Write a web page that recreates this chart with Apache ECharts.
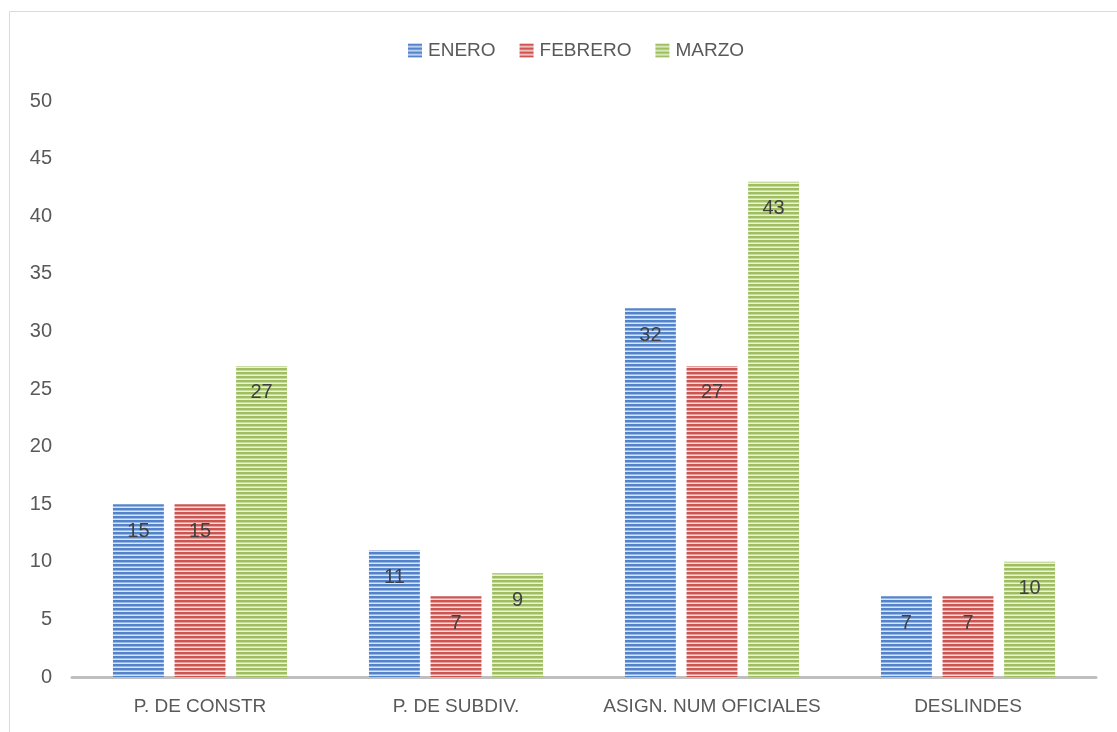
<!DOCTYPE html>
<html>
<head>
<meta charset="utf-8">
<script src="https://cdn.jsdelivr.net/npm/echarts@6/dist/echarts.min.js"></script>
<style>
  html, body { margin: 0; padding: 0; background: #fff; }
  #chart { width: 1117px; height: 732px; }
</style>
</head>
<body>
<div id="chart"></div>
<script>
var categories = ['P. DE CONSTR', 'P. DE SUBDIV.', 'ASIGN. NUM OFICIALES', 'DESLINDES'];
var seriesNames = ['ENERO', 'FEBRERO', 'MARZO'];
var enero = [15, 11, 32, 7];
var febrero = [15, 7, 27, 7];
var marzo = [27, 9, 43, 10];
var yTicks = [0, 5, 10, 15, 20, 25, 30, 35, 40, 45, 50];

(function(){
  var el = document.getElementById('chart');
  var c = echarts.init(el);
  var txt = '#595959';
  var font = '"Liberation Sans", "Open Sans", sans-serif';

  // striped fill like the office chart texture
  function stripes(dark, mid, light) {
    var cv = document.createElement('canvas');
    cv.width = 4; cv.height = 4;
    var g = cv.getContext('2d');
    g.fillStyle = dark; g.fillRect(0, 0, 4, 2);
    g.fillStyle = mid; g.fillRect(0, 2, 4, 1);
    g.fillStyle = light; g.fillRect(0, 3, 4, 1);
    return { image: cv, repeat: 'repeat' };
  }

  var fills = [
    stripes('#5384cb', '#9ab7e3', '#dbe5f5'),
    stripes('#cc5552', '#e49f9d', '#f6dcdb'),
    stripes('#9fbe5e', '#c7dba2', '#eaf2da')
  ];
  var data = [enero, febrero, marzo];

  var series = seriesNames.map(function(name, i){
    return {
      name: name,
      type: 'bar',
      data: data[i],
      barGap: '21%',
      barCategoryGap: '32%',
      itemStyle: { color: fills[i] },
      label: {
        show: true,
        position: 'insideTop',
        distance: 17,
        color: '#404040',
        fontSize: 20,
        fontFamily: font
      }
    };
  });

  c.setOption({
    animation: false,
    graphic: [{
      type: 'rect',
      shape: { x: 9.5, y: 11.5, width: 1200, height: 800 },
      style: { fill: 'none', stroke: '#d9d9d9', lineWidth: 1 },
      silent: true
    }],
    legend: {
      top: 36,
      left: 403,
      itemWidth: 14,
      itemHeight: 14,
      itemGap: 24,
      icon: 'rect',
      textStyle: { color: txt, fontSize: 19, fontFamily: font, padding: [0, 0, 0, 1] },
      data: seriesNames
    },
    grid: { left: 72, right: 21, top: 101, bottom: 55, containLabel: false },
    xAxis: {
      type: 'category',
      data: categories,
      axisLine: { lineStyle: { color: '#bfbfbf', width: 3 } },
      axisTick: { show: false },
      axisLabel: { color: txt, fontSize: 19, fontFamily: font, margin: 20, interval: 0 }
    },
    yAxis: {
      type: 'value',
      min: yTicks[0],
      max: yTicks[yTicks.length - 1],
      interval: 5,
      axisLine: { show: false },
      axisTick: { show: false },
      splitLine: { show: false },
      axisLabel: { color: txt, fontSize: 20, fontFamily: font, margin: 20 }
    },
    series: series
  });
})();
</script>
</body>
</html>
